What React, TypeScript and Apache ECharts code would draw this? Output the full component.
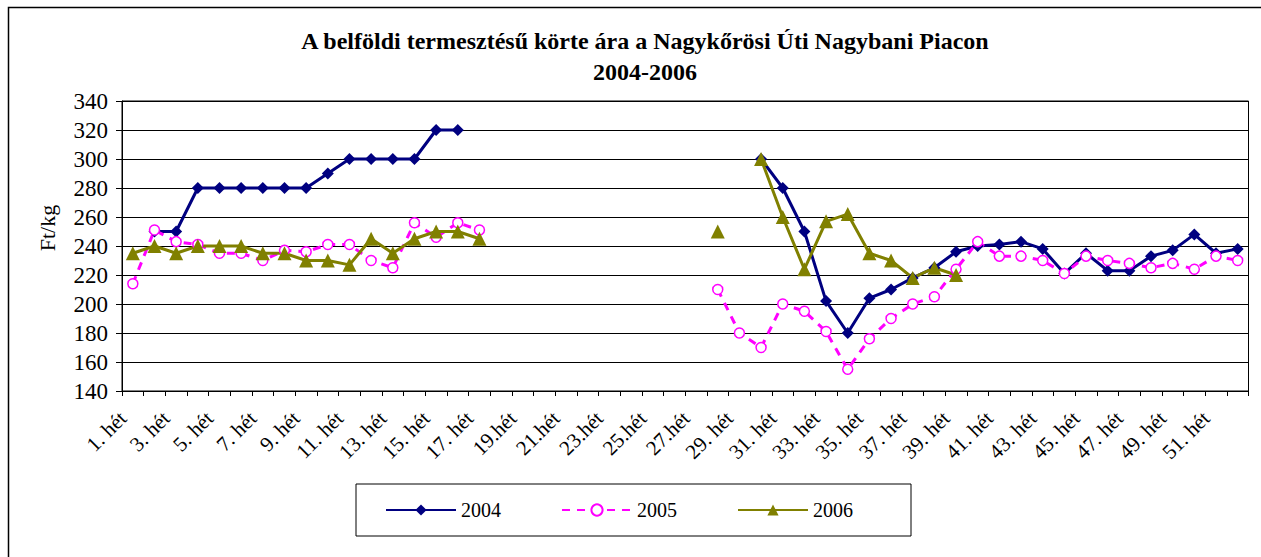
import React, { useEffect, useRef } from "react";
import * as echarts from "echarts";

const weeks = [
  "1. hét", "2. hét", "3. hét", "4. hét", "5. hét", "6. hét", "7. hét", "8. hét", "9. hét", "10. hét",
  "11. hét", "12. hét", "13. hét", "14. hét", "15. hét", "16. hét", "17. hét", "18.hét", "19.hét", "20.hét",
  "21.hét", "22.hét", "23.hét", "24.hét", "25.hét", "26.hét", "27.hét", "28. hét", "29. hét", "30. hét",
  "31. hét", "32. hét", "33. hét", "34. hét", "35. hét", "36. hét", "37. hét", "38. hét", "39. hét", "40. hét",
  "41. hét", "42. hét", "43. hét", "44. hét", "45. hét", "46. hét", "47. hét", "48. hét", "49. hét", "50. hét",
  "51. hét", "52. hét",
];

const y2004 = [
  null, 250, 250, 280, 280, 280, 280, 280, 280, 290,
  300, 300, 300, 300, 320, 320, null, null, null, null,
  null, null, null, null, null, null, null, null, null, 300,
  280, 250, 202, 180, 204, 210, 218, 225, 236, 240,
  241, 243, 238, 221, 235, 223, 223, 233, 237, 248,
  235, 238,
];

const y2005 = [
  214, 251, 243, 241, 235, 235, 230, 237, 236, 241,
  241, 230, 225, 256, 246, 256, 251, null, null, null,
  null, null, null, null, null, null, null, 210, 180, 170,
  200, 195, 181, 155, 176, 190, 200, 205, 224, 243,
  233, 233, 230, 221, 233, 230, 228, 225, 228, 224,
  233, 230,
];

const y2006 = [
  235, 240, 235, 240, 240, 240, 235, 235, 230, 230,
  227, 245, 235, 245, 250, 250, 245, null, null, null,
  null, null, null, null, null, null, null, 250, null, 300,
  260, 224, 257, 262, 235, 230, 218, 225, 220, null,
  null, null, null, null, null, null, null, null, null, null,
  null, null,
];

const seriesNames = ["2004", "2005", "2006"];

const FONT = "'Liberation Serif', 'Times New Roman', serif";

export default function App() {
  const ref = useRef<HTMLDivElement>(null);
  useEffect(() => {
    document.body.style.margin = "0";
    const chart = echarts.init(ref.current!, undefined, { renderer: "svg" });
    chart.setOption({
      animation: false,
      backgroundColor: "#fff",
      title: {
        text: "A belföldi termesztésű körte ára a Nagykőrösi Úti Nagybani Piacon\n2004-2006",
        left: 640,
        textAlign: "center",
        top: 20,
        textStyle: {
          fontFamily: FONT,
          fontWeight: "bold",
          fontSize: 24,
          lineHeight: 31,
          color: "#000",
        },
      },
      graphic: [
        {
          type: "rect",
          shape: { x: 8.5, y: 7.5, width: 1300, height: 600 },
          style: { fill: "none", stroke: "#000", lineWidth: 1.5 },
          silent: true,
        },
      ],
      legend: {
        data: seriesNames,
        left: 356,
        top: 484,
        orient: "horizontal",
        itemWidth: 70,
        itemHeight: 14,
        itemGap: 60,
        padding: [16, 58, 16, 29],
        borderColor: "#000",
        borderWidth: 1,
        textStyle: { fontFamily: FONT, fontSize: 20, color: "#000" },
      },
      grid: {
        left: 122,
        right: 12.5,
        top: 101,
        bottom: 166,
        show: true,
        borderColor: "#000",
        borderWidth: 1,
      },
      xAxis: {
        type: "category",
        data: weeks,
        boundaryGap: true,
        axisLine: { lineStyle: { color: "#000", width: 1 } },
        axisTick: { show: true, interval: 0, length: 5, lineStyle: { color: "#000" } },
        axisLabel: {
          interval: 1,
          rotate: 45,
          margin: 14,
          fontFamily: FONT,
          fontSize: 21,
          color: "#000",
          padding: [0, 14, 0, 0],
        },
        splitLine: { show: false },
      },
      yAxis: {
        type: "value",
        min: 140,
        max: 340,
        interval: 20,
        name: "Ft/kg",
        nameLocation: "middle",
        nameGap: 64,
        nameRotate: 90,
        nameTextStyle: { fontFamily: FONT, fontSize: 22, color: "#000", padding: [0, 0, 0, 36] },
        axisLine: { show: true, lineStyle: { color: "#000", width: 1 } },
        axisTick: { show: true, length: 6, lineStyle: { color: "#000" } },
        axisLabel: { fontFamily: FONT, fontSize: 23, color: "#000", margin: 14 },
        splitLine: { show: true, lineStyle: { color: "#000", width: 1 } },
      },
      series: [
        {
          name: "2004",
          type: "line",
          data: y2004,
          connectNulls: false,
          showAllSymbol: true,
          symbol: "diamond",
          symbolSize: 12,
          lineStyle: { color: "#000080", width: 3 },
          itemStyle: { color: "#000080" },
        },
        {
          name: "2005",
          type: "line",
          data: y2005,
          connectNulls: false,
          showAllSymbol: true,
          symbol: "circle",
          symbolSize: 10,
          lineStyle: { color: "#FF00FF", width: 3, type: [8, 7] },
          itemStyle: { color: "#fff", borderColor: "#FF00FF", borderWidth: 1.5 },
        },
        {
          name: "2006",
          type: "line",
          data: y2006,
          connectNulls: false,
          showAllSymbol: true,
          symbol: "triangle",
          symbolSize: 14,
          lineStyle: { color: "#808000", width: 3 },
          itemStyle: { color: "#808000" },
        },
      ],
    });
    return () => chart.dispose();
  }, []);
  return <div ref={ref} style={{ width: 1261, height: 557 }} />;
}
